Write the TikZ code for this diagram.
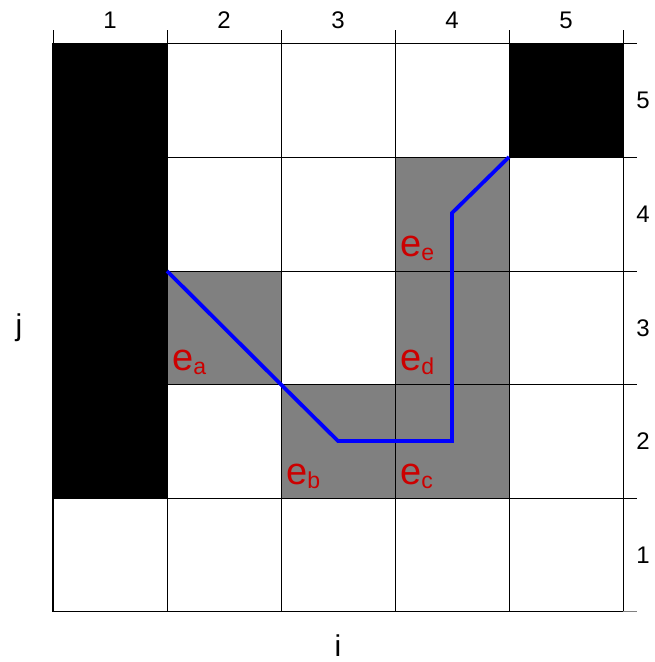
\documentclass[tikz,border=0pt]{standalone}
\usepackage{fontspec}
\setmainfont{Liberation Sans}
\definecolor{lblred}{rgb}{0.8,0,0}
\definecolor{cellgray}{rgb}{0.5,0.5,0.5}
\definecolor{pathblue}{rgb}{0,0,1}
\tikzset{
  tick/.style={font=\fontsize{24}{24}\selectfont, inner sep=0pt},
  axlab/.style={font=\fontsize{30}{30}\selectfont, inner sep=0pt},
  elab/.style={anchor=base west, inner sep=0pt, text=lblred},
  gridline/.style={black, line width=0.8pt},
  pathline/.style={pathblue, line width=3.8pt, line join=miter},
}
\newcommand{\elabel}[1]{\fontsize{38}{38}\selectfont e\raisebox{-4pt}{\fontsize{23}{23}\selectfont #1}}
\begin{document}
\begin{tikzpicture}[x=1pt,y=-1pt]
\useasboundingbox (0,0) rectangle (654,662);
% cells
\fill[black] (53,43) rectangle (167,498);
\fill[black] (509,43) rectangle (623,157);
\fill[cellgray] (167,271) rectangle (281,384.5);
\fill[cellgray] (281,384.5) rectangle (395,498);
\fill[cellgray] (395,384.5) rectangle (509,498);
\fill[cellgray] (395,271) rectangle (509,384.5);
\fill[cellgray] (395,157) rectangle (509,271);
% grid lines
\foreach \x in {167,281,395,509} \draw[gridline] (\x,43) -- (\x,611.5);
\foreach \y in {157,271,384.5,498} \draw[gridline] (53,\y) -- (637,\y);
% axes
\draw[gridline] (53,43) -- (637,43);
\draw[gridline] (623,30) -- (623,611.5);
\draw[gridline, gray] (623,611.5) -- (637,611.5);
\foreach \x in {53,167,281,395,509} \draw[gridline] (\x,30) -- (\x,43);
\draw[black, line width=1.6pt] (53,43) -- (53,611.5) -- (623,611.5);
% tick labels
\node[tick] (t1) at (110,20) {1};
\node[tick] (t2) at (224,20) {2};
\node[tick] (t3) at (338,20) {3};
\node[tick] (t4) at (452,20) {4};
\node[tick] (t5) at (566,20) {5};
\node[tick] (r5) at (643,100) {5};
\node[tick] (r4) at (643,214) {4};
\node[tick] (r3) at (643,328) {3};
\node[tick] (r2) at (643,441) {2};
\node[tick] (r1) at (643,555) {1};
\node[axlab] (ilab) at (338,646) {i};
\node[axlab] (jlab) at (19,328) {j};
% path
\coordinate (p0) at (167,271);
\coordinate (p1) at (281,384.5);
\coordinate (p2) at (338,441);
\coordinate (p3) at (452,441);
\coordinate (p4) at (452,213);
\coordinate (p5) at (509,157);
\draw[pathline] (p0) -- (p1) -- (p2) -- (p3) -- (p4) -- (p5);
% labels
\node[elab] (ea) at (172,370) {\elabel{a}};
\node[elab] (eb) at (286,484) {\elabel{b}};
\node[elab] (ec) at (400,484) {\elabel{c}};
\node[elab] (ed) at (400,370) {\elabel{d}};
\node[elab] (ee) at (400,256) {\elabel{e}};
\end{tikzpicture}
\end{document}
